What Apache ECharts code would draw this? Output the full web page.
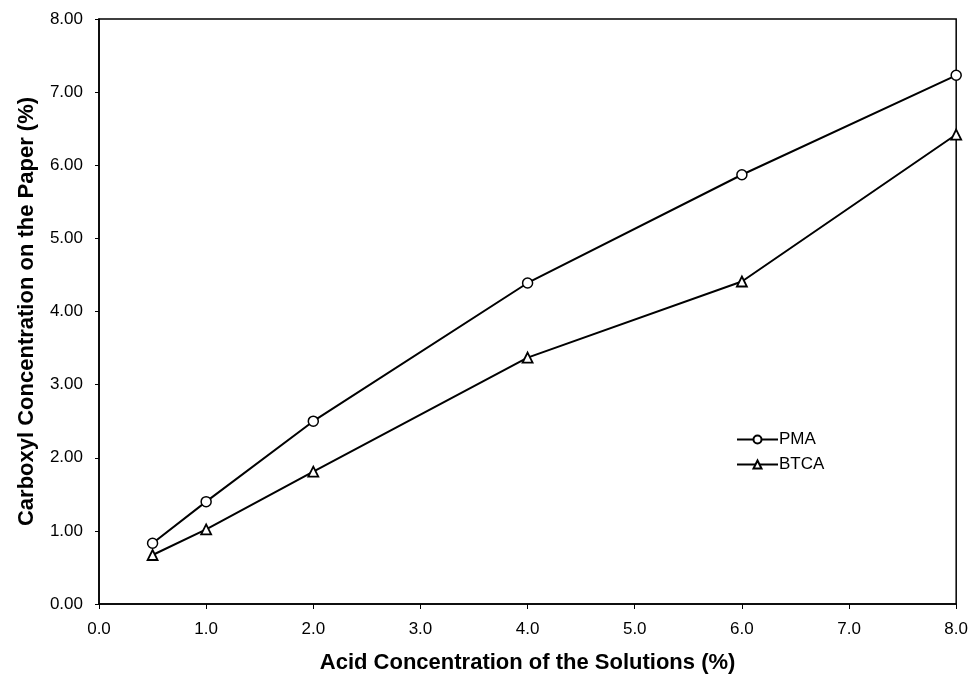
<!DOCTYPE html>
<html>
<head>
<meta charset="utf-8">
<script src="https://cdn.jsdelivr.net/npm/echarts@6/dist/echarts.min.js"></script>
<style>
  html, body { margin: 0; padding: 0; background: #fff; }
  #chart { width: 971px; height: 679px; }
</style>
</head>
<body>
<div id="chart"></div>
<script>
// acid concentration of the solutions (%)
const acidConc = [0.5, 1.0, 2.0, 4.0, 6.0, 8.0]
// carboxyl concentration on the paper (%)
const pmaValues = [0.83, 1.40, 2.50, 4.39, 5.87, 7.23]
const btcaValues = [0.67, 1.02, 1.81, 3.37, 4.41, 6.42]
const seriesNames = ['PMA', 'BTCA']

const font = 'Liberation Sans, Arial, sans-serif'

const chart = echarts.init(document.getElementById('chart'))

const pairs = (xs, ys) => xs.map((x, i) => [x, ys[i]])

const option = {
    backgroundColor: '#fff',
    animation: false,
    grid: {
        left: 99,
        right: 14,
        top: 19,
        bottom: 75,
        show: true,
        borderColor: '#000',
        borderWidth: 1.5
    },
    legend: {
        left: 731,
        top: 426,
        orient: 'vertical',
        itemGap: 8,
        itemWidth: 41,
        itemHeight: 10,
        textStyle: { fontFamily: font, fontSize: 17, color: '#000', padding: [0, 0, 0, -4] },
        data: seriesNames
    },
    xAxis: {
        type: 'value',
        min: 0,
        max: 8,
        interval: 1,
        name: 'Acid Concentration of the Solutions (%)',
        nameLocation: 'middle',
        nameGap: 48,
        nameTextStyle: { fontFamily: font, fontSize: 22, fontWeight: 'bold', color: '#000' },
        axisLine: { lineStyle: { color: '#000', width: 1.5 } },
        axisTick: { length: 5, lineStyle: { color: '#000' } },
        axisLabel: {
            fontFamily: font, fontSize: 17, color: '#000', margin: 17,
            formatter: v => v.toFixed(1)
        },
        splitLine: { show: false }
    },
    yAxis: {
        type: 'value',
        min: 0,
        max: 8,
        interval: 1,
        name: 'Carboxyl Concentration on the Paper (%)',
        nameLocation: 'middle',
        nameGap: 61,
        nameTextStyle: { fontFamily: font, fontSize: 22, fontWeight: 'bold', color: '#000' },
        axisLine: { lineStyle: { color: '#000', width: 1.5 } },
        axisTick: { length: 4, lineStyle: { color: '#000' } },
        axisLabel: {
            fontFamily: font, fontSize: 17, color: '#000', margin: 16,
            formatter: v => v.toFixed(2)
        },
        splitLine: { show: false }
    },
    series: [
        {
            name: seriesNames[0],
            type: 'line',
            data: pairs(acidConc, pmaValues),
            symbol: 'circle',
            symbolSize: 10,
            lineStyle: { color: '#000', width: 2 },
            itemStyle: { color: '#fff', borderColor: '#000', borderWidth: 1.5 }
        },
        {
            name: seriesNames[1],
            type: 'line',
            data: pairs(acidConc, btcaValues),
            symbol: 'triangle',
            symbolSize: 10,
            lineStyle: { color: '#000', width: 2 },
            itemStyle: { color: '#fff', borderColor: '#000', borderWidth: 1.8 }
        }
    ]
}

chart.setOption(option)
</script>
</body>
</html>
